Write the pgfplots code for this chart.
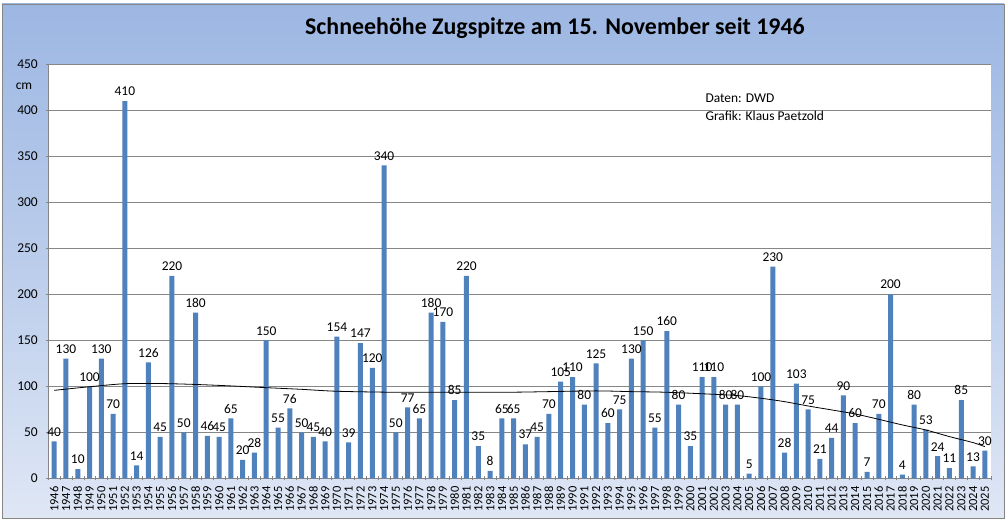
\documentclass[border=0pt]{standalone}
\usepackage{pgfplots}
\pgfplotsset{compat=1.18}
\usepackage{fontspec}
\setmainfont{Carlito}
\definecolor{barblue}{HTML}{4F81BD}
\definecolor{bgtop}{HTML}{9DB7E3}
\definecolor{bgbot}{HTML}{DFE7F5}
\definecolor{gridgray}{HTML}{868686}
\begin{document}
\begin{tikzpicture}[x=1bp,y=1bp]
\useasboundingbox (0,0) rectangle (1008,521);
\fill[white] (0,0) rectangle (1008,521);
\shade[top color=bgtop, bottom color=bgbot, middle color=bgtop!55!bgbot] (2,3) rectangle (1004,517);
\draw[gridgray, line width=0.8bp] (2,3) rectangle (1004,517);
\begin{axis}[
  at={(48.3bp,42.7bp)}, anchor=south west,
  scale only axis, width=942.4bp, height=414bp,
  xmin=-0.5, xmax=79.5, ymin=0, ymax=450,
  axis background/.style={fill=white},
  ybar, bar width=5bp,
  xtick={0,...,79},
  xticklabels={1946,1947,1948,1949,1950,1951,1952,1953,1954,1955,1956,1957,1958,1959,1960,1961,1962,1963,1964,1965,1966,1967,1968,1969,1970,1971,1972,1973,1974,1975,1976,1977,1978,1979,1980,1981,1982,1983,1984,1985,1986,1987,1988,1989,1990,1991,1992,1993,1994,1995,1996,1997,1998,1999,2000,2001,2002,2003,2004,2005,2006,2007,2008,2009,2010,2011,2012,2013,2014,2015,2016,2017,2018,2019,2020,2021,2022,2023,2024,2025},
  xticklabel style={rotate=90, anchor=east, font=\fontsize{12.5}{13}\selectfont, inner sep=1bp},
  xticklabel shift=5bp,
  major x tick style={draw=none},
  minor xtick={-0.5,0.5,...,79.5},
  minor x tick style={gridgray},
  minor tick length=4bp,
  ytick={0,50,...,450},
  yticklabel style={font=\fontsize{13.5}{14}\selectfont, xshift=-5bp},
  major tick length=4bp,
  tick align=outside,
  y tick style={gridgray},
  ymajorgrids, grid style={gridgray, line width=0.8bp},
  axis lines=left, axis line style={gridgray, line width=0.8bp, -},
  /pgf/number format/assume math mode=true,
  nodes near coords,
  every node near coord/.append style={font=\fontsize{13.5}{14}\selectfont, black, inner sep=2bp, yshift=3bp},
  clip=false,
]
\addplot[fill=barblue, draw=none] coordinates {
(0,40) (1,130) (2,10) (3,100) (4,130) (5,70) (6,410) (7,14) (8,126) (9,45)
(10,220) (11,50) (12,180) (13,46) (14,45) (15,65) (16,20) (17,28) (18,150) (19,55)
(20,76) (21,50) (22,45) (23,40) (24,154) (25,39) (26,147) (27,120) (28,340) (29,50)
(30,77) (31,65) (32,180) (33,170) (34,85) (35,220) (36,35) (37,8) (38,65) (39,65)
(40,37) (41,45) (42,70) (43,105) (44,110) (45,80) (46,125) (47,60) (48,75) (49,130)
(50,150) (51,55) (52,160) (53,80) (54,35) (55,110) (56,110) (57,80) (58,80) (59,5)
(60,100) (61,230) (62,28) (63,103) (64,75) (65,21) (66,44) (67,90) (68,60) (69,7)
(70,70) (71,200) (72,4) (73,80) (74,53) (75,24) (76,11) (77,85) (78,13) (79,30)
};
\addplot[sharp plot, black, line width=0.8bp, no marks, nodes near coords={}, smooth] coordinates {
(0,95.6) (3,99.5) (6,102.8) (9,103.0) (12,102.0) (15,100.4) (18,98.5) (21,96.7) (24,94.6)
(29,93.5) (34,93.5) (39,93.6) (42,94.2) (46,95.0) (49,94.2) (52,93.5)
(56,91.3) (58,89.9) (60,87.0) (62,83.3) (64,78.6) (66,74.3) (68,69.9) (70,64.1)
(72,58.0) (74,52.5) (76,45.3) (78,38.8) (79,34.4)
};
\end{axis}
\node[font=\fontsize{13.5}{14}\selectfont] at (24,435) {cm};
\node[font=\bfseries\fontsize{24}{27}\selectfont] at (555,493) {Schneehöhe Zugspitze am 15. November seit 1946};
\node[font=\fontsize{13.5}{14}\selectfont, anchor=west] at (702,423) {Daten: DWD};
\node[font=\fontsize{13.5}{14}\selectfont, anchor=west] at (702,405) {Grafik: Klaus Paetzold};
\end{tikzpicture}
\end{document}
